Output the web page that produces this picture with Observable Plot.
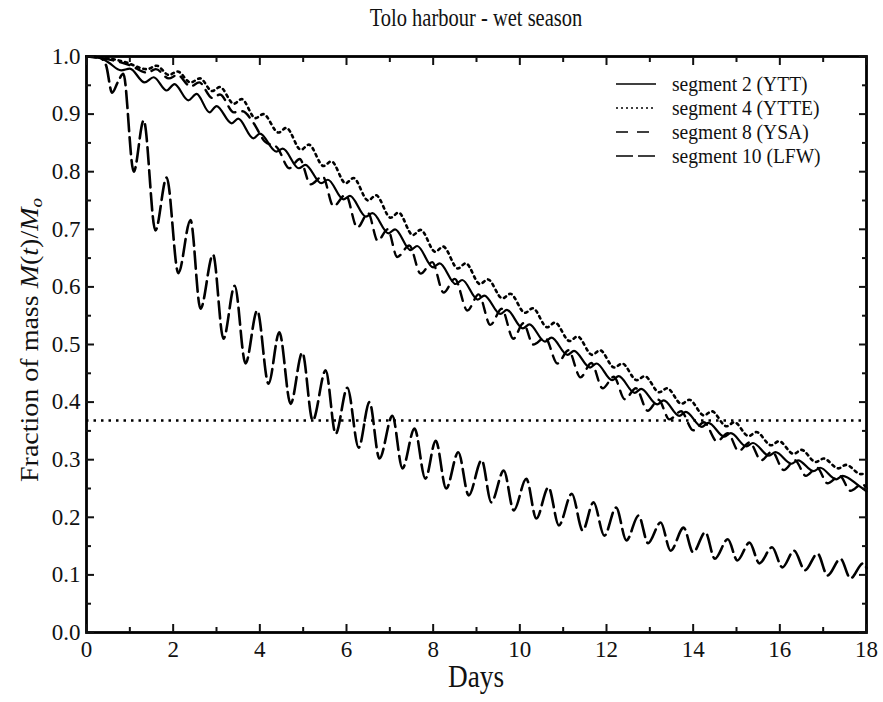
<!DOCTYPE html>
<html>
<head>
<meta charset="utf-8">
<script src="https://cdn.jsdelivr.net/npm/d3@7"></script>
<script src="https://cdn.jsdelivr.net/npm/@observablehq/plot@0.6"></script>
<style>
  body { margin: 0; background: #fff; font-family: "Liberation Serif", "Times New Roman", serif; color: #111; }
  #wrap { position: relative; width: 883px; height: 702px; overflow: hidden; }
  #title { position: absolute; left: 86px; width: 780px; top: 4px; text-align: center; font-size: 25px; transform: scaleX(0.82); }
  #chart { position: absolute; left: 0; top: 40px; }
  #chart svg text { font-family: "Liberation Serif", "Times New Roman", serif !important; font-size: 23px !important; fill: #111; }
  #xlab { position: absolute; left: 86px; width: 780px; top: 659px; text-align: center; font-size: 31px; transform: scaleX(0.88); }
  #ylab { position: absolute; left: 30px; top: 340px; transform: translate(-50%, -50%) rotate(-90deg) scaleY(0.88); white-space: nowrap; font-size: 28px; }
  #ylab sub { font-size: 19px; vertical-align: -5px; line-height: 0; }
  #legend { position: absolute; left: 612px; top: 72px; font-size: 21px; }
  #legend span { display: inline-block; transform: scaleX(0.93); transform-origin: left center; }
  .row { height: 24px; display: flex; align-items: center; }
  .row svg { width: 48px; height: 24px; margin-right: 12px; }
</style>
</head>
<body>
<div id="wrap">
  <div id="title">Tolo harbour - wet season</div>
  <div id="chart"></div>
  <div id="xlab">Days</div>
  <div id="ylab">Fraction of mass <i>M</i>(<i>t</i>)/<i>M</i><sub><i>o</i></sub></div>
  <div id="legend"></div>
</div>
<script>
// ---- data (day, fraction of mass) ----
const seriesNames = ["segment 2 (YTT)", "segment 4 (YTTE)", "segment 8 (YSA)", "segment 10 (LFW)"];

const seg2 = [[0,1.0],[0.3,0.998],[0.5,0.99],[0.8,0.976],[1.0,0.979],[1.34,0.955],[1.55,0.964],[1.85,0.941],[2.03,0.952],[2.35,0.924],[2.54,0.935],[2.84,0.903],[3.0,0.914],[3.35,0.884],[3.5,0.892],[3.85,0.858],[4.0,0.866],[4.38,0.835],[4.53,0.84],[4.9,0.806],[5.05,0.812],[5.42,0.78],[5.57,0.786],[5.93,0.752],[6.08,0.758],[6.45,0.722],[6.6,0.728],[6.97,0.693],[7.12,0.7],[7.48,0.664],[7.63,0.671],[8.0,0.634],[8.15,0.641],[8.52,0.605],[8.67,0.612],[9.03,0.578],[9.18,0.585],[9.55,0.553],[9.7,0.56],[10.07,0.528],[10.22,0.535],[10.58,0.505],[10.73,0.512],[11.1,0.482],[11.25,0.489],[11.62,0.46],[11.77,0.467],[12.13,0.438],[12.28,0.445],[12.65,0.416],[12.8,0.423],[13.17,0.396],[13.32,0.403],[13.68,0.376],[13.83,0.383],[14.2,0.357],[14.35,0.364],[14.72,0.34],[14.87,0.346],[15.23,0.323],[15.38,0.329],[15.75,0.307],[15.9,0.313],[16.27,0.293],[16.42,0.299],[16.78,0.28],[16.93,0.286],[17.3,0.266],[17.45,0.272],[17.82,0.255],[18,0.245]];

const seg4 = [[0,1.0],[0.5,0.997],[0.9,0.99],[1.4,0.978],[1.62,0.984],[1.9,0.968],[2.1,0.974],[2.4,0.955],[2.62,0.962],[2.9,0.94],[3.08,0.947],[3.4,0.918],[3.58,0.926],[3.9,0.893],[4.08,0.9],[4.43,0.868],[4.61,0.876],[4.95,0.838],[5.13,0.847],[5.47,0.81],[5.65,0.818],[5.98,0.78],[6.16,0.789],[6.5,0.75],[6.68,0.759],[7.02,0.72],[7.2,0.729],[7.53,0.69],[7.71,0.699],[8.05,0.661],[8.23,0.67],[8.57,0.632],[8.75,0.641],[9.08,0.605],[9.26,0.613],[9.6,0.58],[9.78,0.588],[10.12,0.555],[10.3,0.563],[10.63,0.53],[10.81,0.538],[11.15,0.506],[11.33,0.514],[11.67,0.482],[11.85,0.49],[12.18,0.46],[12.36,0.467],[12.7,0.438],[12.88,0.445],[13.22,0.417],[13.4,0.424],[13.73,0.397],[13.91,0.404],[14.25,0.377],[14.43,0.384],[14.77,0.358],[14.95,0.365],[15.28,0.341],[15.46,0.348],[15.8,0.325],[15.98,0.332],[16.32,0.31],[16.5,0.317],[16.83,0.296],[17.01,0.302],[17.35,0.285],[17.53,0.291],[17.87,0.275],[18,0.276]];

const seg8 = [[0,1.0],[0.5,0.995],[1.0,0.985],[1.4,0.972],[1.6,0.978],[1.9,0.962],[2.1,0.968],[2.4,0.948],[2.6,0.955],[2.9,0.928],[3.08,0.934],[3.4,0.903],[3.6,0.905],[3.85,0.885],[4.12,0.852],[4.4,0.842],[4.68,0.806],[4.92,0.822],[5.17,0.778],[5.45,0.792],[5.7,0.74],[5.98,0.76],[6.25,0.703],[6.5,0.728],[6.72,0.68],[6.95,0.7],[7.17,0.652],[7.45,0.672],[7.71,0.623],[7.98,0.643],[8.24,0.59],[8.5,0.614],[8.79,0.559],[9.05,0.587],[9.32,0.534],[9.58,0.562],[9.85,0.51],[10.08,0.537],[10.31,0.5],[10.58,0.512],[10.87,0.467],[11.12,0.49],[11.4,0.443],[11.65,0.468],[11.91,0.424],[12.17,0.444],[12.42,0.405],[12.68,0.424],[12.95,0.385],[13.2,0.404],[13.45,0.37],[13.72,0.384],[14.0,0.351],[14.25,0.365],[14.55,0.332],[14.8,0.346],[15.05,0.315],[15.3,0.33],[15.57,0.299],[15.82,0.314],[16.09,0.282],[16.35,0.299],[16.6,0.272],[16.86,0.286],[17.1,0.259],[17.38,0.272],[17.63,0.246],[17.9,0.258],[18,0.25]];

const seg10 = [[0,1.0],[0.3,0.998],[0.45,0.985],[0.59,0.937],[0.72,0.955],[0.85,0.97],[1.09,0.80],[1.32,0.889],[1.59,0.698],[1.85,0.79],[2.12,0.624],[2.4,0.716],[2.63,0.562],[2.92,0.656],[3.16,0.51],[3.42,0.602],[3.67,0.467],[3.94,0.559],[4.2,0.432],[4.45,0.521],[4.71,0.397],[4.98,0.486],[5.22,0.368],[5.52,0.455],[5.75,0.345],[6.02,0.425],[6.28,0.321],[6.53,0.40],[6.76,0.302],[7.06,0.376],[7.29,0.285],[7.57,0.354],[7.82,0.267],[8.06,0.333],[8.3,0.25],[8.58,0.313],[8.82,0.238],[9.12,0.299],[9.34,0.226],[9.63,0.281],[9.86,0.212],[10.15,0.267],[10.38,0.198],[10.66,0.252],[10.9,0.186],[11.2,0.241],[11.45,0.177],[11.7,0.226],[11.95,0.168],[12.22,0.217],[12.46,0.16],[12.74,0.203],[12.96,0.155],[13.25,0.191],[13.48,0.142],[13.78,0.182],[14.0,0.139],[14.28,0.174],[14.5,0.128],[14.8,0.162],[15.02,0.125],[15.3,0.156],[15.53,0.12],[15.82,0.148],[16.06,0.113],[16.33,0.142],[16.58,0.108],[16.87,0.137],[17.1,0.099],[17.4,0.128],[17.63,0.094],[17.92,0.12],[18,0.112]];

const eFoldLevel = 0.368;   // horizontal dotted reference line (1/e)
const xMajorTicks = [0, 2, 4, 6, 8, 10, 12, 14, 16, 18];
const xMinorTicks = [1, 3, 5, 7, 9, 11, 13, 15, 17];
const yMajorTicks = [0, 0.1, 0.2, 0.3, 0.4, 0.5, 0.6, 0.7, 0.8, 0.9, 1.0];
const yMinorTicks = [0.05, 0.15, 0.25, 0.35, 0.45, 0.55, 0.65, 0.75, 0.85, 0.95];

// ---- styles ----
const dashes = [null, "2.5,4", "10,7", "17,6"];
const widths = [2.2, 2.6, 2.4, 2.6];
const allSeries = [seg2, seg4, seg8, seg10];

const lineMarks = allSeries.map((s, i) => Plot.line(s, {
  x: d => d[0], y: d => d[1], curve: "monotone-x",
  stroke: "#000", strokeWidth: widths[i], strokeDasharray: dashes[i]
}));

const plot = Plot.plot({
  width: 883, height: 662,
  marginLeft: 86, marginRight: 17, marginTop: 16, marginBottom: 70,
  x: {domain: [0, 18]},
  y: {domain: [0, 1]},
  style: {fontFamily: "'Liberation Serif', 'Times New Roman', serif", fontSize: "23px", color: "#111", background: "#fff"},
  marks: [
    Plot.ruleY([eFoldLevel], {stroke: "#000", strokeWidth: 2.4, strokeDasharray: "2.5,5"}),
    ...lineMarks,
    Plot.frame({stroke: "#000", strokeWidth: 2.8}),
    Plot.axisX(xMajorTicks, {anchor: "bottom", tickSize: -8, tickPadding: 16, tickFormat: d => d, fontSize: 23, label: null, strokeWidth: 2}),
    Plot.axisX(xMinorTicks, {anchor: "bottom", tickSize: -5, tickFormat: () => "", label: null, strokeWidth: 2}),
    Plot.axisX(xMajorTicks, {anchor: "top", tickSize: -8, tickFormat: () => "", label: null, strokeWidth: 2}),
    Plot.axisX(xMinorTicks, {anchor: "top", tickSize: -5, tickFormat: () => "", label: null, strokeWidth: 2}),
    Plot.axisY(yMajorTicks, {anchor: "left", tickSize: -8, tickPadding: 14, tickFormat: d3.format(".1f"), fontSize: 23, label: null, strokeWidth: 2}),
    Plot.axisY(yMinorTicks, {anchor: "left", tickSize: -5, tickFormat: () => "", label: null, strokeWidth: 2}),
    Plot.axisY(yMajorTicks, {anchor: "right", tickSize: -8, tickFormat: () => "", label: null, strokeWidth: 2}),
    Plot.axisY(yMinorTicks, {anchor: "right", tickSize: -5, tickFormat: () => "", label: null, strokeWidth: 2})
  ]
});
document.getElementById("chart").appendChild(plot);

// ---- legend (inside plot, top right) ----
const legend = d3.select("#legend");
seriesNames.forEach((name, i) => {
  const row = legend.append("div").attr("class", "row");
  const svg = row.append("svg");
  svg.append("line").attr("x1", 4).attr("x2", 44).attr("y1", 12).attr("y2", 12)
    .attr("stroke", "#000").attr("stroke-width", 1.6)
    .attr("stroke-dasharray", i === 1 ? "2,3" : (i === 2 ? "12,9" : (i === 3 ? "17,5" : null)));
  row.append("span").text(name);
});
</script>
</body>
</html>
